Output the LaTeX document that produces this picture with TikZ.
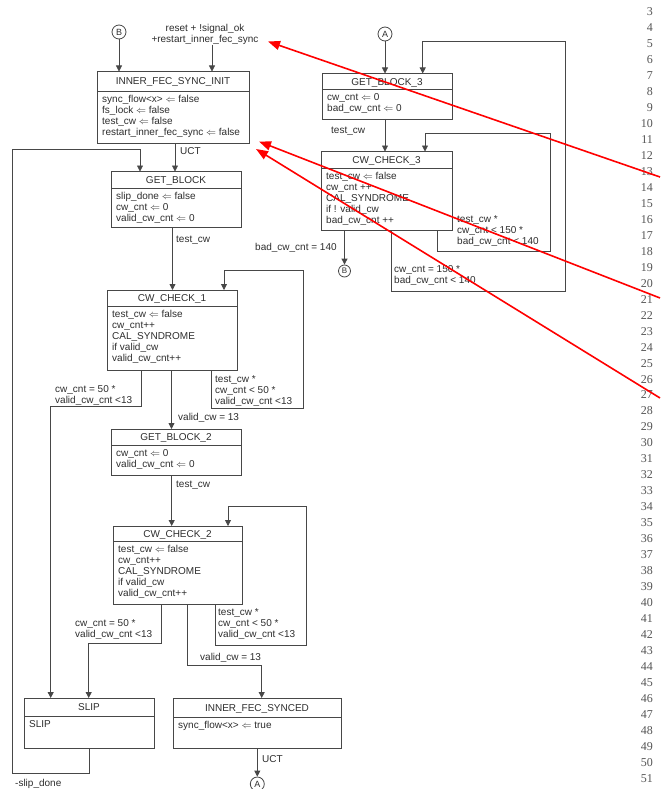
\documentclass[tikz,border=0pt]{standalone}
\usepackage{fontspec}
\setmainfont{Liberation Sans}
\newfontfamily\numfont{Liberation Serif}
\usetikzlibrary{arrows.meta}
\definecolor{lc}{HTML}{474747}
\definecolor{tc}{HTML}{2E2E2E}
\definecolor{nc}{HTML}{555555}
\newcommand\asg{\ensuremath{\Leftarrow}}
% name, L, T, R, B, sep, title, body
\newcommand\stbox[8]{%
  \node[stbox, minimum width={#4-#2}, minimum height={#5-#3}] (#1) at (#2,#3) {};
  \draw[line] ([yshift={-(#6-#3)}]#1.north west) -- ([yshift={-(#6-#3)}]#1.north east);
  \node[txt, anchor=base] (#1-t) at ({(#2+#4)/2},{(#3+#6)/2+3.6}) {#7};
  \node[txt, anchor=north west, align=left] (#1-b) at (#2+5,#6+3.3) {\strut #8};
}
\begin{document}
\begin{tikzpicture}[x=1pt,y=-1pt,
  stbox/.style={draw=lc,line width=0.8pt,anchor=north west,inner sep=0pt,outer sep=0pt},
  txt/.style={text=tc,font=\fontsize{10}{11}\selectfont,inner sep=0pt},
  lbl/.style={txt,anchor=north west,align=left},
  line/.style={draw=lc,line width=0.8pt},
  conn/.style={draw=lc,line width=0.8pt,-{Triangle[length=6pt,width=6pt]}},
  conncirc/.style={circle,draw=lc,line width=0.8pt,inner sep=0pt,minimum size=14pt,text=tc,font=\fontsize{9}{10}\selectfont},
  redarr/.style={draw=red,line width=1.6pt,-{Triangle[length=12pt,width=9pt]}},
  lnum/.style={text=nc,font=\numfont\fontsize{12}{12}\selectfont,anchor=base east,inner sep=0pt}]
\useasboundingbox (0,0) rectangle (662,789);
\fill[white] (0,0) rectangle (662,789);

% ---------- states ----------
\stbox{init}{97}{71.5}{249}{143.5}{91}{INNER\_FEC\_SYNC\_INIT}{sync\_flow<x> \asg{} false\\fs\_lock \asg{} false\\test\_cw \asg{} false\\restart\_inner\_fec\_sync \asg{} false}
\stbox{gb}{111}{171.5}{241}{227.5}{188.3}{GET\_BLOCK}{slip\_done \asg{} false\\cw\_cnt \asg{} 0\\valid\_cw\_cnt \asg{} 0}
\stbox{cc1}{107}{290}{237}{370}{306}{CW\_CHECK\_1}{test\_cw \asg{} false\\cw\_cnt++\\CAL\_SYNDROME\\if valid\_cw\\valid\_cw\_cnt++}
\stbox{gb2}{111}{429}{241}{475}{445}{GET\_BLOCK\_2}{cw\_cnt \asg{} 0\\valid\_cw\_cnt \asg{} 0}
\stbox{cc2}{113}{526}{242}{604}{541}{CW\_CHECK\_2}{test\_cw \asg{} false\\cw\_cnt++\\CAL\_SYNDROME\\if valid\_cw\\valid\_cw\_cnt++}
\stbox{slip}{24}{698}{154}{748}{716}{SLIP}{SLIP}
\stbox{synced}{173}{698}{341}{748}{717}{INNER\_FEC\_SYNCED}{sync\_flow<x> \asg{} true}
\stbox{gb3}{322}{73.5}{452}{119}{89.5}{GET\_BLOCK\_3}{cw\_cnt \asg{} 0\\bad\_cw\_cnt \asg{} 0}
\stbox{cc3}{321}{151.5}{452}{230}{168.3}{CW\_CHECK\_3}{test\_cw \asg{} false\\cw\_cnt ++\\CAL\_SYNDROME\\if ! valid\_cw\\bad\_cw\_cnt ++}

% ---------- connector circles ----------
\node[conncirc] (cB) at (119,32) {B};
\node[conncirc] (cA) at (385,34) {A};
\node[conncirc,minimum size=12pt,font=\fontsize{8}{9}\selectfont] (cB2) at (344.5,271) {B};
\node[conncirc] (cA2) at (257.3,784) {A};

% ---------- entry ----------
\node[txt,align=center] (rst) at (205,34.5) {reset + !signal\_ok\\+restart\_inner\_fec\_sync};
\draw[conn] (cB) -- ([xshift=22]init.north west);
\draw[conn] ([xshift=7]rst.south) -- ([xshift=115]init.north west);

% ---------- left column ----------
\draw[conn] ([xshift=78]init.south west) -- ([xshift=64]gb.north west);
\node[lbl] (l-uct1) at (180,146.9) {\strut UCT};

\draw[conn] ([xshift=61.5]gb.south west) -- ([xshift=65.5]cc1.north west);
\node[lbl] (l-tc1) at (176,234.9) {\strut test\_cw};

\draw[conn] ([xshift=104]cc1.south west) -- ++(0,38) -| (303,270) -| ([xshift=117]cc1.north west);
\node[lbl] (l-cc1loop) at (215,374.9) {\strut test\_cw *\\cw\_cnt < 50 *\\valid\_cw\_cnt <13};

\draw[conn] ([xshift=34.7]cc1.south west) -- ++(0,36.7) -| ([xshift=26.7]slip.north west);
\node[lbl] (l-cc1slip) at (55,384.9) {\strut cw\_cnt = 50 *\\valid\_cw\_cnt <13};

\draw[conn] ([xshift=64.5]cc1.south west) -- ([xshift=60.5]gb2.north west);
\node[lbl] (l-v1) at (178,412.9) {\strut valid\_cw = 13};

\draw[conn] ([xshift=60.7]gb2.south west) -- ([xshift=58.7]cc2.north west);
\node[lbl] (l-tc2) at (176,479.9) {\strut test\_cw};

\draw[conn] ([xshift=102]cc2.south west) -- ++(0,41) -| (306.7,506) -| ([xshift=115]cc2.north west);
\node[lbl] (l-cc2loop) at (218,607.6) {\strut test\_cw *\\cw\_cnt < 50 *\\valid\_cw\_cnt <13};

\draw[conn] ([xshift=48.7]cc2.south west) -- ++(0,39.3) -| ([xshift=64.7]slip.north west);
\node[lbl] (l-cc2slip) at (75,618.6) {\strut cw\_cnt = 50 *\\valid\_cw\_cnt <13};

\draw[conn] ([xshift=74.7]cc2.south west) -- ++(0,61) -| ([xshift=88.7]synced.north west);
\node[lbl] (l-v2) at (200,652.6) {\strut valid\_cw = 13};

\draw[conn] ([xshift=84.3]synced.south west) -- (cA2);
\node[lbl] (l-uct2) at (262,754.9) {\strut UCT};

\draw[conn] ([xshift=65]slip.south west) -- ++(0,25) -| (12,149) -| ([xshift=29]gb.north west);
\node[lbl] (l-slipdone) at (15,778.9) {\strut -slip\_done};

% ---------- right column ----------
\draw[conn] (cA) -- ([xshift=63]gb3.north west);
\draw[conn] ([xshift=63]gb3.south west) -- ([xshift=64]cc3.north west);
\node[lbl] (l-tc3) at (331,125.2) {\strut test\_cw};

\draw[conn] ([xshift=116.3]cc3.south west) -- ++(0,21.7) -| (550.7,133.3) -| ([xshift=104]cc3.north west);
\node[lbl] (l-cc3in) at (457,214.2) {\strut test\_cw *\\cw\_cnt < 150 *\\bad\_cw\_cnt < 140};

\draw[conn] ([xshift=70.7]cc3.south west) -- ++(0,61.7) -| (565,41.7) -| ([xshift=100.7]gb3.north west);
\node[lbl] (l-cc3out) at (394,264.2) {\strut cw\_cnt = 150 *\\bad\_cw\_cnt < 140};

\draw[conn] ([xshift=23.5]cc3.south west) -- (cB2);
\node[lbl] (l-bad) at (255,242.9) {\strut bad\_cw\_cnt = 140};

% ---------- line numbers ----------
\foreach \i in {3,...,51}
  \node[lnum] (ln\i) at (653,{15.7+(\i-3)*15.97}) {\i};

% ---------- red annotation arrows ----------
\coordinate (r1s) at (660,177);
\coordinate (r1e) at (268,41.5);
\coordinate (r2s) at (660,298);
\coordinate (r2e) at (259,141.5);
\coordinate (r3s) at (660,398);
\coordinate (r3e) at (256,149);
\draw[redarr] (r1s) -- (r1e);
\draw[redarr] (r2s) -- (r2e);
\draw[redarr] (r3s) -- (r3e);
\end{tikzpicture}
\end{document}
